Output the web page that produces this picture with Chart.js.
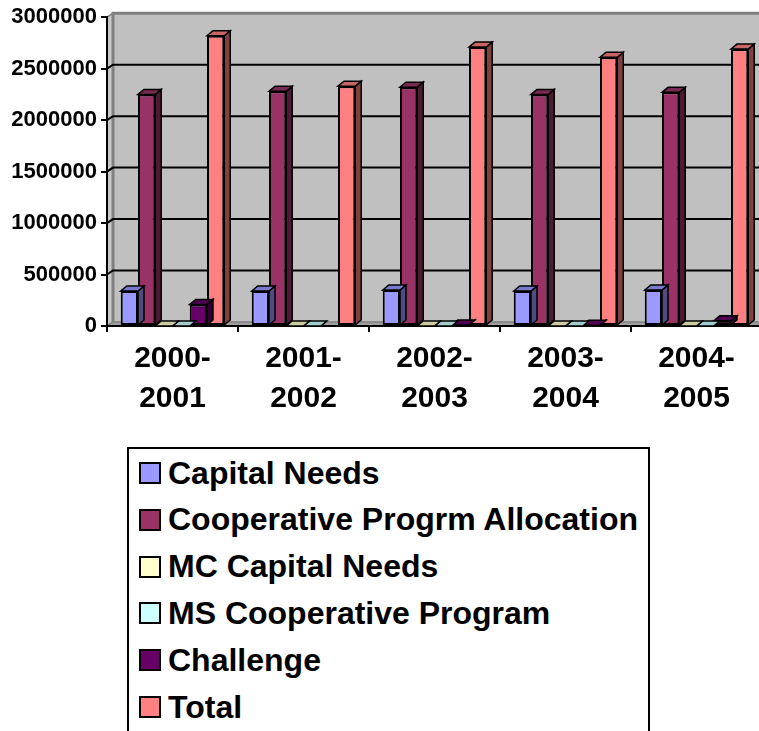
<!DOCTYPE html>
<html>
<head>
<meta charset="utf-8">
<script src="https://cdn.jsdelivr.net/npm/chart.js@4.4.1/dist/chart.umd.min.js"></script>
<style>
  html, body { margin: 0; padding: 0; background: #fff; overflow: hidden; }
  #wrap { position: relative; width: 759px; height: 731px; overflow: hidden; }
  #grafico { position: absolute; left: 0; top: 0; }
  #legenda {
    position: absolute; left: 127px; top: 447px; width: 519px; height: 320px;
    border: 2px solid #000; background: #fff;
    font: bold 32px "Liberation Sans", Arial, sans-serif; color: #000;
  }
  .item { position: absolute; left: 10px; height: 40px; display: flex; align-items: center; white-space: nowrap; }
  .caixa { width: 18px; height: 18px; border: 2px solid #000; margin-right: 7px; }
</style>
</head>
<body>
<div id="wrap">
  <canvas id="grafico" width="762" height="731"></canvas>
  <div id="legenda"></div>
</div>
<script>
// dados
const categorias = [["2000-", "2001"], ["2001-", "2002"], ["2002-", "2003"], ["2003-", "2004"], ["2004-", "2005"]];
const nomesSeries = ["Capital Needs", "Cooperative Progrm Allocation", "MC Capital Needs", "MS Cooperative Program", "Challenge", "Total"];
const capitalNeeds = [340000, 340000, 350000, 340000, 350000];
const cooperativeAllocation = [2250000, 2280000, 2320000, 2250000, 2270000];
const mcCapitalNeeds = [0, 0, 0, 0, 0];
const msCooperativeProgram = [0, 0, 0, 0, 0];
const challenge = [210000, null, 10000, 8000, 50000];
const total = [2820000, 2330000, 2710000, 2610000, 2690000];
const coresSeries = ["#9999ff", "#993366", "#ffffcc", "#ccffff", "#660066", "#ff8080"];
const marcasY = [0, 500000, 1000000, 1500000, 2000000, 2500000, 3000000];

const valoresSeries = [capitalNeeds, cooperativeAllocation, mcCapitalNeeds, msCooperativeProgram, challenge, total];

// profundidade do efeito 3d
const PROF_X = 6;
const PROF_Y = 5;
const FONTE = "'Liberation Sans', Arial, sans-serif";

function escurecer(hex, f) {
    const n = parseInt(hex.slice(1), 16);
    const r = Math.round(((n >> 16) & 255) * f);
    const g = Math.round(((n >> 8) & 255) * f);
    const b = Math.round((n & 255) * f);
    return `rgb(${r},${g},${b})`;
}

function poligono(ctx, pts, fill, stroke, lw) {
    ctx.beginPath();
    ctx.moveTo(pts[0][0], pts[0][1]);
    for (let i = 1; i < pts.length; i++) ctx.lineTo(pts[i][0], pts[i][1]);
    ctx.closePath();
    if (fill) { ctx.fillStyle = fill; ctx.fill(); }
    if (stroke) { ctx.strokeStyle = stroke; ctx.lineWidth = lw; ctx.stroke(); }
}

// paredes, chao e linhas de grade em perspectiva
const fundo3d = {
    id: "fundo3d",
    beforeDraw(chart) {
        const ctx = chart.ctx;
        const { left, right, top, bottom } = chart.chartArea;
        const dy = 4, dx = PROF_X;
        const escalaY = chart.scales.y;
        ctx.save();
        poligono(ctx, [[left + dx, top - dy], [right + dx, top - dy], [right + dx, bottom - dy], [left + dx, bottom - dy]], "#c0c0c0");
        poligono(ctx, [[left, top], [left + dx, top - dy], [left + dx, bottom - dy], [left, bottom]], "#c8c8c8", "#808080", 1.5);
        poligono(ctx, [[left, bottom], [left + dx, bottom - dy], [right + dx, bottom - dy], [right, bottom]], "#a0a0a0", "#808080", 1.5);
        ctx.beginPath();
        ctx.moveTo(left + dx, bottom - dy);
        ctx.lineTo(left + dx, top - dy);
        ctx.lineTo(right + dx, top - dy);
        ctx.strokeStyle = "#808080";
        ctx.lineWidth = 3;
        ctx.stroke();
        marcasY.slice(1, -1).forEach(v => {
            const py = escalaY.getPixelForValue(v);
            ctx.beginPath();
            ctx.moveTo(left, py);
            ctx.lineTo(left + dx, py - dy);
            ctx.lineTo(right + dx, py - dy);
            ctx.strokeStyle = "#000";
            ctx.lineWidth = 2;
            ctx.stroke();
        });
        ctx.restore();
    },
    // topo e lateral de cada barra antes da face frontal
    beforeDatasetDraw(chart, args) {
        const ctx = chart.ctx;
        const ds = chart.data.datasets[args.index];
        const cor = ds.backgroundColor;
        ctx.save();
        args.meta.data.forEach((barra, i) => {
            if (ds.data[i] == null) return;
            const { x, y, base, width } = barra.getProps(["x", "y", "base", "width"], true);
            const esq = x - width / 2, dir = x + width / 2;
            poligono(ctx, [[dir, y], [dir + PROF_X, y - PROF_Y], [dir + PROF_X, base - PROF_Y], [dir, base]], escurecer(cor, 0.5), "#000", 1.5);
            poligono(ctx, [[esq, y], [esq + PROF_X, y - PROF_Y], [dir + PROF_X, y - PROF_Y], [dir, y]], escurecer(cor, 0.8), "#000", 1.5);
        });
        ctx.restore();
    },
};

const datasets = nomesSeries.map((nome, i) => ({
    label: nome,
    data: valoresSeries[i],
    backgroundColor: coresSeries[i],
    borderColor: "#000",
    borderWidth: 2,
    borderSkipped: false,
    barPercentage: 1,
    categoryPercentage: 0.79,
}));

new Chart(document.getElementById("grafico").getContext("2d"), {
    type: "bar",
    data: { labels: categorias, datasets },
    options: {
        responsive: false,
        animation: false,
        layout: { padding: { top: 16, left: 0, right: 0, bottom: 0 } },
        plugins: { legend: { display: false }, tooltip: { enabled: false } },
        scales: {
            x: {
                afterFit: s => { s.height = 405; },
                grid: { drawOnChartArea: false, offset: true, tickLength: 6, color: "#000", lineWidth: 2 },
                border: { color: "#000", width: 2 },
                ticks: {
                    color: "#000", padding: 7, maxRotation: 0, autoSkip: false,
                    font: { family: FONTE, size: 30, weight: "bold", lineHeight: 1.333 },
                },
            },
            y: {
                min: 0,
                max: 3000000,
                afterFit: s => { s.width = 107; },
                afterBuildTicks: s => { s.ticks = marcasY.map(v => ({ value: v })); },
                grid: { drawOnChartArea: false, tickLength: 6, color: "#000", lineWidth: 2 },
                border: { color: "#000", width: 2 },
                ticks: {
                    color: "#000", padding: 4,
                    font: { family: FONTE, size: 22, weight: "bold" },
                    callback: v => String(v),
                },
            },
        },
    },
    plugins: [fundo3d],
});

// legenda em html com os nomes das series
const legenda = document.getElementById("legenda");
nomesSeries.forEach((nome, i) => {
    const item = document.createElement("div");
    item.className = "item";
    item.style.top = (4 + i * 46.8) + "px";
    const caixa = document.createElement("span");
    caixa.className = "caixa";
    caixa.style.background = coresSeries[i];
    const texto = document.createElement("span");
    texto.textContent = nome;
    item.appendChild(caixa);
    item.appendChild(texto);
    legenda.appendChild(item);
});
</script>
</body>
</html>
